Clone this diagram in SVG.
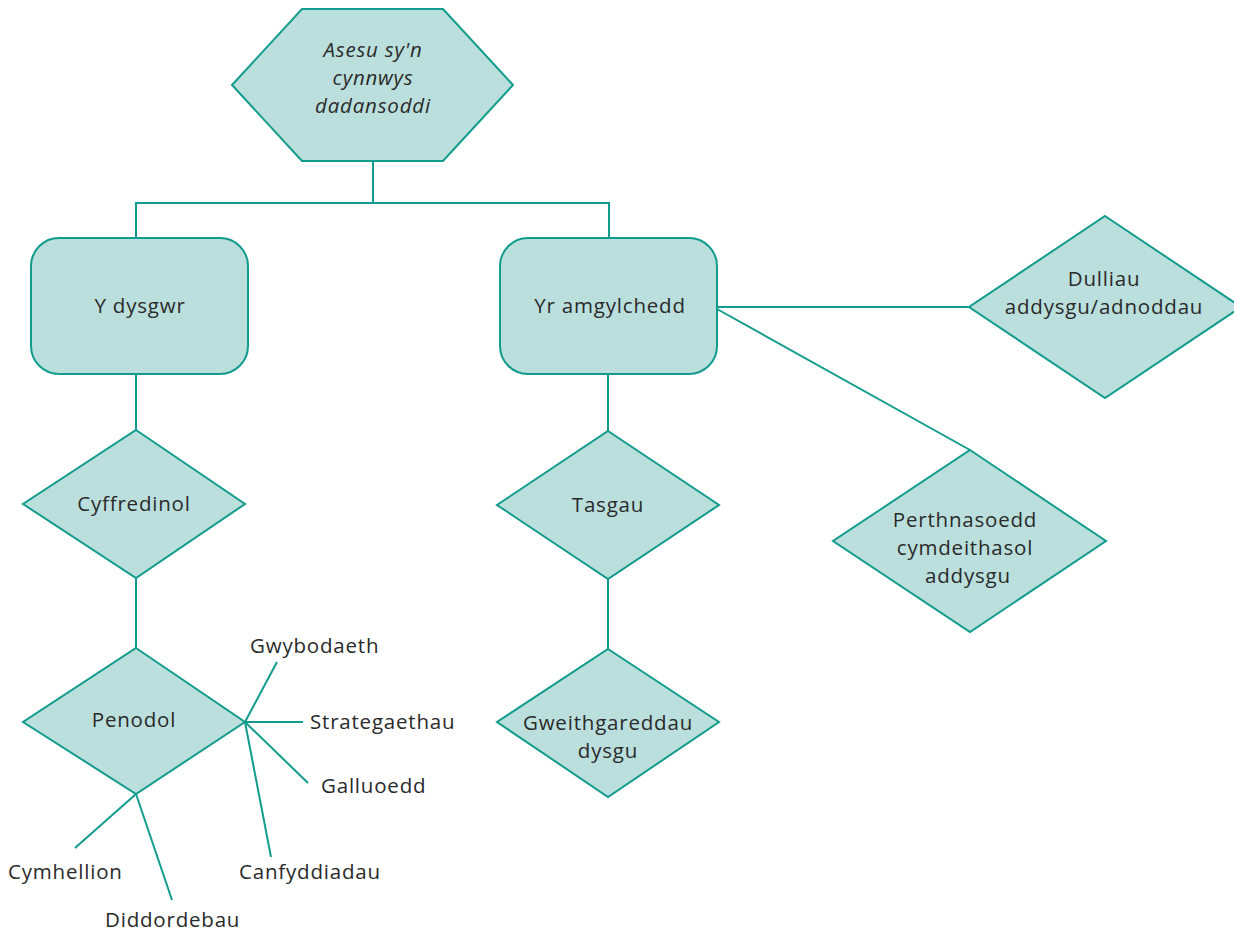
<svg xmlns="http://www.w3.org/2000/svg" width="1234" height="934" viewBox="0 0 1234 934">
<style>
.shape{fill:#badfdc;stroke:#129c8d;stroke-width:2}
.conn line,.conn polyline{stroke:#129c8d;stroke-width:2;fill:none}
text{font-family:"Open Sans","Noto Sans","Liberation Sans",sans-serif;font-size:20.5px;letter-spacing:0.8px;fill:#2a2a2a}
.c{text-anchor:middle}
.i{font-style:italic}
</style>
<rect width="1234" height="934" fill="#ffffff"/>
<g class="conn">
<polyline points="373,161 373,203"/>
<polyline points="136,238 136,203 609,203 609,238"/>
<line x1="136" y1="374" x2="136" y2="430"/>
<line x1="136" y1="578" x2="136" y2="648"/>
<line x1="608" y1="374" x2="608" y2="431"/>
<line x1="608" y1="579" x2="608" y2="649"/>
<line x1="717" y1="307" x2="969" y2="307"/>
<line x1="717" y1="309" x2="970" y2="450"/>
<line x1="245" y1="722" x2="277" y2="662"/>
<line x1="245" y1="722" x2="303" y2="722"/>
<line x1="245" y1="722" x2="308" y2="783"/>
<line x1="245" y1="722" x2="271" y2="857"/>
<line x1="136" y1="794" x2="75" y2="848"/>
<line x1="136" y1="794" x2="172" y2="900"/>
</g>
<g id="node-asesu">
<polygon class="shape" points="302,9 443,9 513,85 443,161 302,161 232,85"/>
<text class="c i" x="373" y="57">Asesu sy'n</text>
<text class="c i" x="373" y="85">cynnwys</text>
<text class="c i" x="373" y="113">dadansoddi</text>
</g>
<g id="node-dysgwr">
<rect class="shape" x="31" y="238" width="217" height="136" rx="28"/>
<text class="c" x="140" y="313">Y dysgwr</text>
</g>
<g id="node-amgylchedd">
<rect class="shape" x="500" y="238" width="217" height="136" rx="28"/>
<text class="c" x="610" y="313">Yr amgylchedd</text>
</g>
<g id="node-cyffredinol">
<polygon class="shape" points="136,430 245,504 136,578 23,504"/>
<text class="c" x="134" y="511">Cyffredinol</text>
</g>
<g id="node-penodol">
<polygon class="shape" points="136,648 245,722 136,794 23,722"/>
<text class="c" x="134" y="727">Penodol</text>
</g>
<g id="node-tasgau">
<polygon class="shape" points="608,431 719,505 608,579 497,505"/>
<text class="c" x="608" y="512">Tasgau</text>
</g>
<g id="node-gweithgareddau">
<polygon class="shape" points="608,649 719,722 608,797 497,722"/>
<text class="c" x="608" y="730">Gweithgareddau</text>
<text class="c" x="608" y="758">dysgu</text>
</g>
<g id="node-dulliau">
<polygon class="shape" points="1105,216 1241,307 1105,398 969,307"/>
<text class="c" x="1104" y="286">Dulliau</text>
<text class="c" x="1104" y="314">addysgu/adnoddau</text>
</g>
<g id="node-perthnasoedd">
<polygon class="shape" points="970,450 1106,541 970,632 833,541"/>
<text class="c" x="965" y="527">Perthnasoedd</text>
<text class="c" x="965" y="555">cymdeithasol</text>
<text class="c" x="968" y="583">addysgu</text>
</g>
<g id="labels">
<text x="250" y="653">Gwybodaeth</text>
<text x="310" y="729">Strategaethau</text>
<text x="321" y="793">Galluoedd</text>
<text x="239" y="879">Canfyddiadau</text>
<text x="8" y="879">Cymhellion</text>
<text x="105" y="927">Diddordebau</text>
</g>
</svg>
